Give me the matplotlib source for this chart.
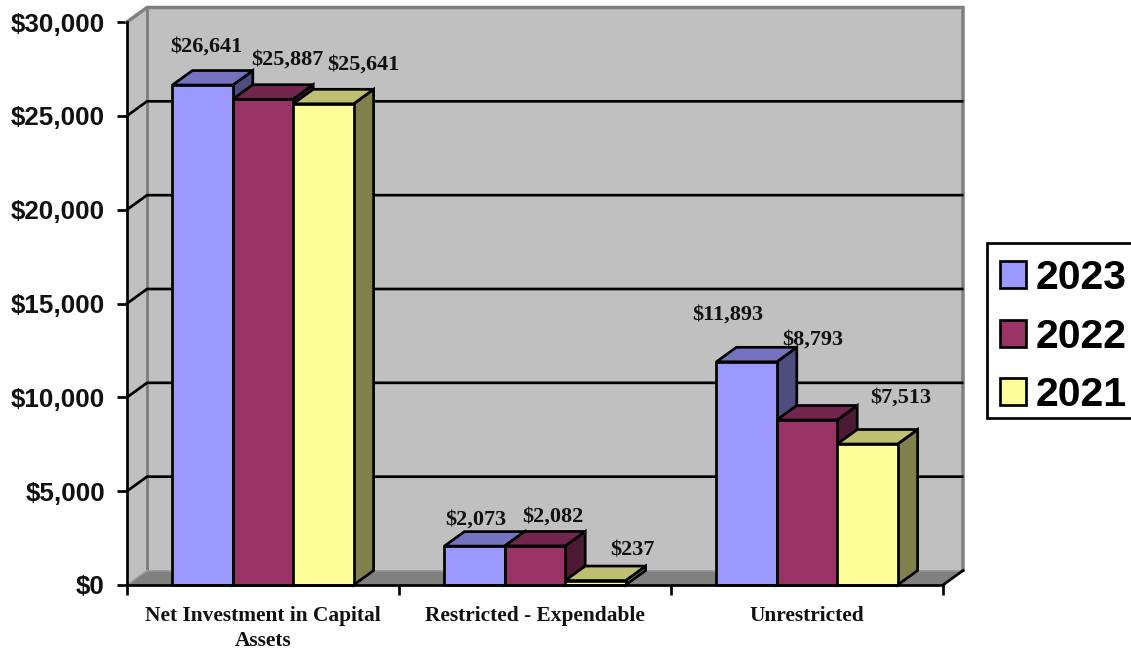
import matplotlib
matplotlib.use("Agg")
import matplotlib.pyplot as plt
from matplotlib.patches import Polygon, Patch, Rectangle

categories = ["Net Investment in Capital\nAssets", "Restricted - Expendable", "Unrestricted"]
years = ["2023", "2022", "2021"]
values_2023 = [26641, 2073, 11893]
values_2022 = [25887, 2082, 8793]
values_2021 = [25641, 237, 7513]
yticks = [0, 5000, 10000, 15000, 20000, 25000, 30000]

series = [values_2023, values_2022, values_2021]
front = ["#9999FF", "#993366", "#FFFF99"]
top_c = ["#7373BF", "#73264D", "#BFBF73"]
side_c = ["#4D4D80", "#4D1A33", "#80804D"]
# label offsets from bar-top centre, in pixels
lab_dx = [[4, 24, 40], [1, 18, 37], [-19, 6, 33]]
lab_dy = [[38, 40, 39], [27, 29, 30], [47, 80, 46]]

W, H = 1131, 651
fig = plt.figure(figsize=(W / 100, H / 100), dpi=100, facecolor="white")
ax = fig.add_axes([127 / W, 1 - 585 / H, (943 - 127) / W, (585 - 22) / H])
ax.patch.set_alpha(0)
ax.set_xlim(0, 3)
ax.set_ylim(0, 30000)
dx = 20 / 272
dy = 14.5 / 563 * 30000
bw = 60.4 / 272
PX = 0.72
lw = 2.7 * PX
wall = "#C0C0C0"
gray = "#808080"

ymax = yticks[-1]
# walls and floor
ax.add_patch(Polygon([(0, 0), (dx, dy), (dx, ymax + dy), (0, ymax)], fc=wall, ec="none", zorder=1, clip_on=False))
ax.add_patch(Polygon([(dx, dy), (3 + dx, dy), (3 + dx, ymax + dy), (dx, ymax + dy)], fc=wall, ec="none", zorder=1, clip_on=False))
ax.add_patch(Polygon([(0, 0), (3, 0), (3 + dx, dy), (dx, dy)], fc=gray, ec="none", zorder=1, clip_on=False))
ax.plot([0, dx, 3 + dx, 3 + dx], [ymax, ymax + dy, ymax + dy, dy], color=gray, lw=3.5 * PX, zorder=2, clip_on=False, solid_joinstyle="miter")
ax.plot([dx, dx], [dy, ymax + dy], color=gray, lw=3 * PX, zorder=2, clip_on=False)
ax.plot([dx, 3 + dx], [dy, dy], color="#9A9A9A", lw=1.5 * PX, zorder=2, clip_on=False)
ax.plot([0, dx], [0, dy], color="#A0A0A0", lw=1.5 * PX, zorder=2, clip_on=False)
ax.plot([3, 3 + dx], [0, dy], color="black", lw=lw, zorder=2, clip_on=False)
for v in yticks[1:-1]:
    ax.plot([0, dx, 3 + dx - 0.003], [v, v + dy, v + dy], color="black", lw=lw, zorder=2, clip_on=False)

# bars
z = 3
for c in range(len(categories)):
    for s in range(3):
        v = series[s][c]
        x0 = c + 0.5 + (s - 1.5) * bw
        x1 = x0 + bw
        ax.add_patch(Polygon([(x1, 0), (x1 + dx, dy), (x1 + dx, v + dy), (x1, v)], fc=side_c[s], ec="black", lw=lw, zorder=z, clip_on=False, joinstyle="miter"))
        ax.add_patch(Polygon([(x0, v), (x0 + dx, v + dy), (x1 + dx, v + dy), (x1, v)], fc=top_c[s], ec="black", lw=lw, zorder=z + 0.1, clip_on=False, joinstyle="miter"))
        ax.bar(x0 + bw / 2, v, width=bw, color=front[s], edgecolor="black", linewidth=lw, zorder=z + 0.2, clip_on=False)
        z += 1

# value labels
for c in range(len(categories)):
    for s in range(3):
        v = series[s][c]
        xc = c + 0.5 + (s - 1) * bw
        ax.annotate(f"${v:,}", (xc, v), xytext=(lab_dx[c][s], lab_dy[c][s]), textcoords="offset pixels",
                    ha="center", va="center", family="Liberation Serif", weight="bold", fontsize=16,
                    color="#111111", zorder=200, annotation_clip=False)

# axes
for sp in ("top", "right"):
    ax.spines[sp].set_visible(False)
for sp in ("left", "bottom"):
    ax.spines[sp].set_linewidth(lw)
    ax.spines[sp].set_zorder(150)
ax.set_yticks(yticks)
ax.set_yticklabels([f"${v:,}" for v in yticks], family="Liberation Sans", weight="bold", fontsize=18.7, color="#111111")
ax.set_xticks([0, 1, 2, 3])
ax.set_xticklabels([])
ax.set_xticks([0.5, 1.5, 2.5], minor=True)
ax.set_xticklabels(categories, minor=True, family="Liberation Serif", weight="bold", fontsize=15.4, color="#111111", linespacing=1.3)
ax.tick_params(axis="y", length=10 * PX, width=lw, pad=12 * PX)
ax.tick_params(axis="x", which="major", length=10 * PX, width=lw)
ax.tick_params(axis="x", which="minor", length=0, pad=21 * PX)

# legend: frame drawn separately so it can run past the right edge
fig.add_artist(Rectangle((987 / W, 1 - 418 / H), 160 / W, 175 / H, transform=fig.transFigure,
                         fc="white", ec="black", lw=lw, zorder=5))
handles = [Patch(fc=front[i], ec="black", lw=lw, label=years[i]) for i in range(3)]
leg = fig.legend(handles=handles, loc="upper left", bbox_to_anchor=(987 / W, 1 - 246 / H), bbox_transform=fig.transFigure,
                 borderaxespad=0, prop={"family": "Liberation Sans", "weight": "bold", "size": 29.5},
                 frameon=False, borderpad=0.32, handlelength=0.63, handleheight=0.63,
                 handletextpad=0.24, labelspacing=0.5)
leg.set_zorder(6)

fig.savefig("out.png", dpi=100)
